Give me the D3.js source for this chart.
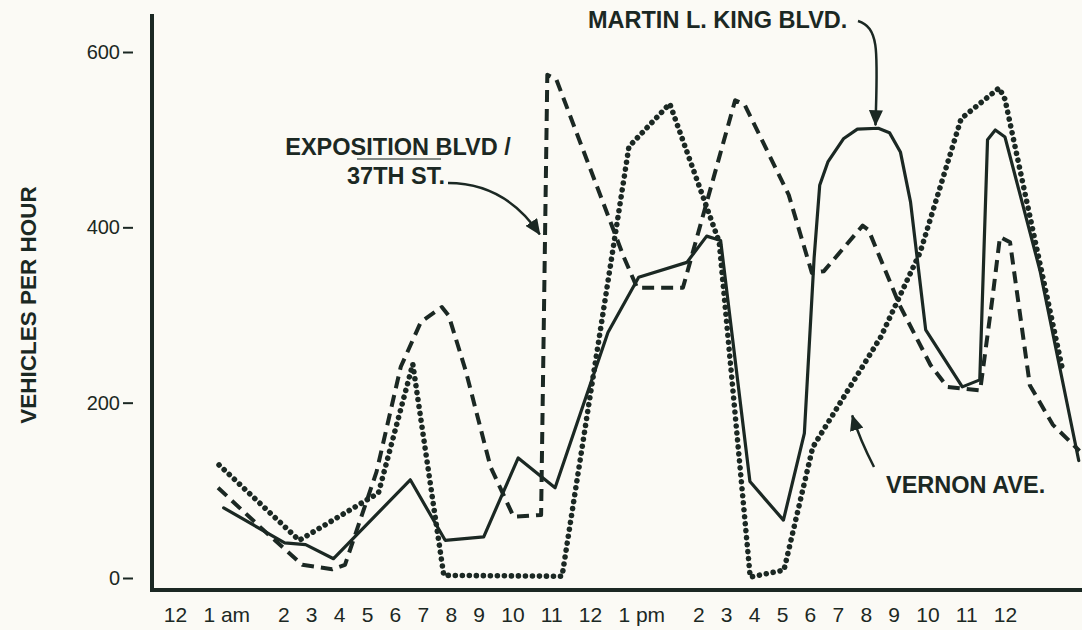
<!DOCTYPE html>
<html>
<head>
<meta charset="utf-8">
<script src="https://cdn.jsdelivr.net/npm/d3@7"></script>
<style>
  html, body { margin: 0; padding: 0; background: #fbfaf5; }
  svg { display: block; }
</style>
</head>
<body>
<svg id="chart" width="1082" height="630"></svg>
<script>
// ---------------- DATA ----------------
const hourLabels = ["12", "1 am", "2", "3", "4", "5", "6", "7", "8", "9", "10", "11",
                    "12", "1 pm", "2", "3", "4", "5", "6", "7", "8", "9", "10", "11", "12"];
const yTicks = [0, 200, 400, 600];

// Martin L. King Blvd. (solid)
const kingHours  = [0.95, 2.05, 2.8, 3.8, 6.55, 7.8, 9.15, 10.15, 11.1, 12.35, 12.95, 13.8, 14.3, 14.8,
                    15.85, 17.05, 17.8, 18.15, 18.35, 18.65, 19.2, 19.7, 20.45, 20.85, 21.2, 21.5, 21.95,
                    22.9, 23.35, 23.55, 23.75, 24.0, 24.9, 25.9];
const kingValues = [80, 40, 38, 22, 112, 43, 47, 137, 103, 280, 343, 360, 390, 385,
                    110, 66, 165, 365, 448, 475, 501, 512, 513, 508, 486, 429, 283,
                    218, 226, 500, 511, 503, 351, 134];

// Exposition Blvd / 37th St. (dashed)
const expoHours  = [0.84, 1.63, 2.68, 3.75, 4.21, 5.34, 6.21, 6.93, 7.68, 7.93, 8.54, 9.35, 10.03, 10.74,
                    10.9, 11.13, 12.66, 12.92, 13.73, 15.32, 15.66, 17.24, 18.07, 18.5, 19.89, 20.1,
                    21.18, 22.08, 22.51, 23.36, 23.67, 23.87, 24.13, 24.64, 25.23, 25.92];
const expoValues = [103, 56, 15, 10, 15, 121, 241, 292, 309, 299, 236, 127, 70, 72,
                    574, 569, 366, 331, 331, 545, 540, 437, 348, 350, 402, 397,
                    311, 243, 218, 214, 317, 389, 383, 220, 175, 145];

// Vernon Ave. (dotted)
const vernonHours  = [0.86, 2.57, 5.41, 6.64, 7.75, 11.28, 12.76, 13.5, 14.75, 15.86, 17.07, 18.1,
                      20.54, 21.79, 22.87, 23.85, 24.0, 25.49];
const vernonValues = [129, 43, 97, 244, 3, 2, 492, 541, 383, 1, 9, 149,
                      275, 372, 524, 559, 546, 236];

// ---------------- LAYOUT / STYLE ----------------
const W = 1082, H = 630;
const ink = "#1b2823";
const paper = "#fbfaf5";
const FONT = "'Liberation Sans', Arial, Helvetica, sans-serif";
const plot = { left: 152, right: W, top: 14, bottom: 590 };

const svg = d3.select("#chart");
svg.append("rect").attr("width", W).attr("height", H).attr("fill", paper);

// x positions of the hour labels: the labels are typeset in one row with an even gap
// (double space after "am"/"pm"), and the data are plotted against those label positions.
const tickFont = 21;
const meas = svg.append("text").attr("font-family", FONT).attr("font-size", tickFont);
const textW = t => { meas.text(t); return meas.node().getComputedTextLength(); };
const widths = hourLabels.map(textW);
const spaceW = textW("0 0") - 2 * textW("0");
meas.remove();
const extra = hourLabels.map(t => t.includes(" ") ? 2 * spaceW : 0);
const firstC = 175, lastC = 1005;
let inner = 0;
for (let i = 0; i < hourLabels.length - 1; i++) inner += widths[i] / 2 + widths[i + 1] / 2 + extra[i];
const gap = (lastC - firstC - inner) / (hourLabels.length - 1);
const centers = [firstC];
for (let i = 0; i < hourLabels.length - 1; i++) {
  centers.push(centers[i] + widths[i] / 2 + extra[i] + gap + widths[i + 1] / 2);
}
const hours = d3.range(hourLabels.length);
const x = d3.scaleLinear().domain(hours).range(centers);
const y = d3.scaleLinear().domain([0, 600]).range([578, 52]);

// ---------------- AXES ----------------
const xAxisG = svg.append("g")
  .attr("transform", `translate(0,${plot.bottom})`)
  .call(d3.axisBottom(x).tickValues(hours).tickFormat(i => hourLabels[i]).tickSize(0).tickPadding(17))
  .attr("font-family", FONT).attr("font-size", tickFont).attr("color", ink);
xAxisG.select(".domain").remove();

const yAxisG = svg.append("g")
  .attr("transform", `translate(${plot.left},0)`)
  .call(d3.axisLeft(y).tickValues(yTicks).tickSize(0).tickPadding(32))
  .attr("font-family", FONT).attr("font-size", 20).attr("color", ink);
yAxisG.select(".domain").remove();
yAxisG.selectAll(".tick line").attr("x1", -29).attr("x2", -19).attr("stroke-width", 2);

// frame lines
svg.append("line").attr("x1", plot.left).attr("x2", plot.left)
  .attr("y1", plot.top).attr("y2", plot.bottom + 2)
  .attr("stroke", ink).attr("stroke-width", 4);
svg.append("line").attr("x1", plot.left - 2).attr("x2", plot.right)
  .attr("y1", plot.bottom).attr("y2", plot.bottom)
  .attr("stroke", ink).attr("stroke-width", 4);

// y title
svg.append("text")
  .attr("transform", `translate(36,305) rotate(-90)`)
  .attr("text-anchor", "middle")
  .attr("font-family", FONT).attr("font-weight", "bold").attr("font-size", 22.5)
  .attr("fill", ink)
  .text("VEHICLES PER HOUR");

// ---------------- SERIES ----------------
const line = d3.line().x(d => x(d[0])).y(d => y(d[1]));
const series = [
  { pts: d3.zip(kingHours, kingValues),     width: 3.2, dash: null,     cap: "round" },
  { pts: d3.zip(expoHours, expoValues),     width: 4,   dash: "12,7",   cap: "butt" },
  { pts: d3.zip(vernonHours, vernonValues), width: 5.6, dash: "0.01,7", cap: "round" }
];
svg.append("g").selectAll("path").data(series).join("path")
  .attr("d", s => line(s.pts))
  .attr("fill", "none")
  .attr("stroke", ink)
  .attr("stroke-width", s => s.width)
  .attr("stroke-dasharray", s => s.dash)
  .attr("stroke-linecap", s => s.cap)
  .attr("stroke-linejoin", "round");

// ---------------- ANNOTATIONS ----------------
svg.append("defs").append("marker")
  .attr("id", "head").attr("markerUnits", "userSpaceOnUse")
  .attr("viewBox", "0 -7 16 14").attr("refX", 15).attr("refY", 0)
  .attr("markerWidth", 16).attr("markerHeight", 14).attr("orient", "auto")
  .append("path").attr("d", "M0,-7L16,0L0,7Z").attr("fill", ink);

const label = (txt, xx, yy, anchor) => svg.append("text")
  .attr("x", xx).attr("y", yy).attr("text-anchor", anchor)
  .attr("font-family", FONT).attr("font-weight", "bold").attr("font-size", 23.5)
  .attr("fill", ink).text(txt);

label("MARTIN L. KING BLVD.", 588, 28, "start");
label("EXPOSITION BLVD /", 398, 155, "middle");
label("37TH ST.", 396, 184, "middle");
label("VERNON AVE.", 886, 493, "start");

svg.append("line").attr("x1", 357).attr("x2", 441).attr("y1", 159).attr("y2", 159)
  .attr("stroke", ink).attr("stroke-width", 1.3).attr("opacity", 0.7);

const arrow = d => svg.append("path").attr("d", d).attr("fill", "none")
  .attr("stroke", ink).attr("stroke-width", 2.5).attr("marker-end", "url(#head)");

// tips placed on the curves they point to
const tipKing = [x(20.35), y(513) - 3];
const tipExpo = [x(10.86) - 6, y(392)];
const tipVern = [x(19.3) + 6, y(190) + 4];
arrow(`M858,21 C880,28 ${tipKing[0] + 2},52 ${tipKing[0]},${tipKing[1]}`);
arrow(`M448,183 Q505,183 ${tipExpo[0]},${tipExpo[1]}`);
arrow(`M874,467 Q860,440 ${tipVern[0]},${tipVern[1]}`);
</script>
</body>
</html>
